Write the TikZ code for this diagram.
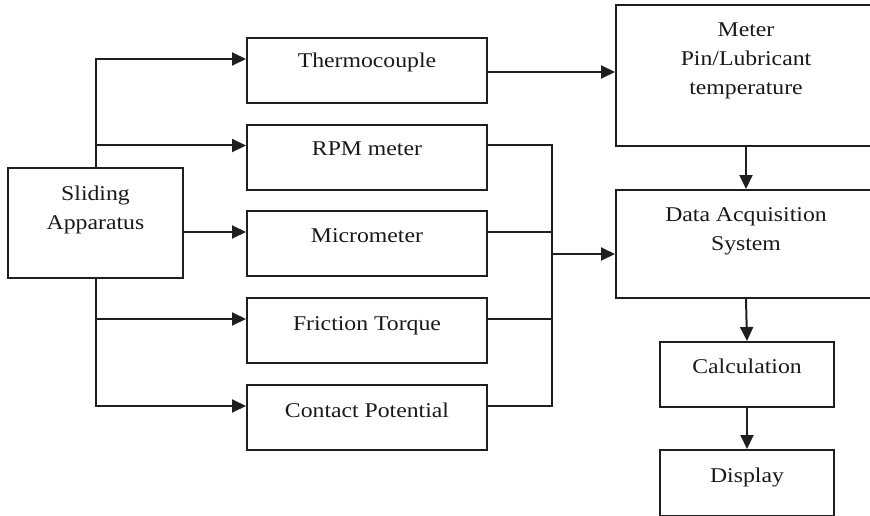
\documentclass[tikz,border=0pt]{standalone}
\usepackage{fontspec}
\setmainfont{Liberation Serif}[FakeStretch=1.13]
\usetikzlibrary{arrows.meta,calc}
\begin{document}
\begin{tikzpicture}[x=1pt,y=-1pt,
  box/.style={draw=black!88, line width=2pt, inner sep=0pt, anchor=north west},
  sbox/.style={box, minimum width=240pt, minimum height=65pt},
  lbl/.style={font=\fontsize{21}{29}\selectfont, align=center, inner sep=0pt, anchor=base, text=black!90},
  wire/.style={draw=black!88, line width=2pt},
  arr/.style={wire, -{Triangle[length=14pt,width=13pt]}}]
\useasboundingbox (0,0) rectangle (870,516);
\clip (0,0) rectangle (870,516);
% boxes
\node[box, minimum width=175pt, minimum height=110pt] (slide) at (7,167) {};
\node[sbox] (thermo) at (246,37) {};
\node[sbox] (rpm) at (246,124) {};
\node[sbox] (micro) at (246,210) {};
\node[sbox] (fric) at (246,297) {};
\node[sbox] (cont) at (246,384) {};
\node[box, minimum width=262pt, minimum height=141pt] (meter) at (615,4) {};
\node[box, minimum width=262pt, minimum height=108pt] (daq) at (615,189) {};
\node[box, minimum width=174pt, minimum height=65pt] (calc) at (659,341) {};
\node[box, minimum width=174pt, minimum height=66pt] (disp) at (659,449) {};
% labels (base anchor = baseline of the last line)
\node[lbl] (tslide) at ($(slide.north)+(0,62)$) {Sliding\\Apparatus};
\node[lbl] (tthermo) at ($(thermo.north)+(0,31)$) {Thermocouple};
\node[lbl] (trpm) at ($(rpm.north)+(0,32)$) {RPM meter};
\node[lbl] (tmicro) at ($(micro.north)+(0,32)$) {Micrometer};
\node[lbl] (tfric) at ($(fric.north)+(0,33)$) {Friction Torque};
\node[lbl] (tcont) at ($(cont.north)+(0,33)$) {Contact Potential};
\node[lbl] (tmeter) at ($(meter.north west)+(131,91)$) {Meter\\Pin/Lubricant\\temperature};
\node[lbl] (tdaq) at ($(daq.north west)+(131,61)$) {Data Acquisition\\System};
\node[lbl] (tcalc) at ($(calc.north)+(0,32)$) {Calculation};
\node[lbl] (tdisp) at ($(disp.north)+(0,33)$) {Display};
% ports
\coordinate (pthermo) at ($(thermo.north west)+(0,22)$);
\coordinate (prpm) at ($(rpm.north west)+(0,21.5)$);
\coordinate (pmicro) at ($(micro.north west)+(0,22)$);
\coordinate (pfric) at ($(fric.north west)+(0,22)$);
\coordinate (pcont) at ($(cont.north west)+(0,22)$);
\coordinate (orpm) at ($(rpm.north east)+(0,21.5)$);
\coordinate (omicro) at ($(micro.north east)+(0,22)$);
\coordinate (ofric) at ($(fric.north east)+(0,22)$);
\coordinate (ocont) at ($(cont.north east)+(0,22)$);
\coordinate (othermo) at ($(thermo.north east)+(0,35)$);
\coordinate (bustop) at ($(orpm)+(64,0)$);
\coordinate (busbot) at ($(ocont)+(64,0)$);
\coordinate (pdaq) at ($(daq.north west)+(0,65)$);
\coordinate (meterdown) at ($(meter.south west)+(131,0)$);
\coordinate (daqin) at ($(daq.north west)+(131,0)$);
\coordinate (daqout) at ($(daq.south west)+(131,0)$);
% left fan-out
\draw[arr] (slide.north) |- (pthermo);
\draw[arr] (slide.north |- prpm) -- (prpm);
\draw[arr] (slide.east |- pmicro) -- (pmicro);
\draw[arr] (slide.south |- pfric) -- (pfric);
\draw[arr] (slide.south) |- (pcont);
% right bus
\draw[wire] (orpm) -- (bustop) -- (busbot) -- (ocont);
\draw[wire] (omicro) -- (omicro -| bustop);
\draw[wire] (ofric) -- (ofric -| bustop);
\draw[arr] (bustop |- pdaq) -- (pdaq);
\draw[arr] (othermo) -- (othermo -| meter.west);
% right column
\draw[arr] (meterdown) -- (daqin);
\draw[arr] (daqout) -- (calc.north);
\draw[arr] (calc.south) -- (disp.north);
\end{tikzpicture}
\end{document}
